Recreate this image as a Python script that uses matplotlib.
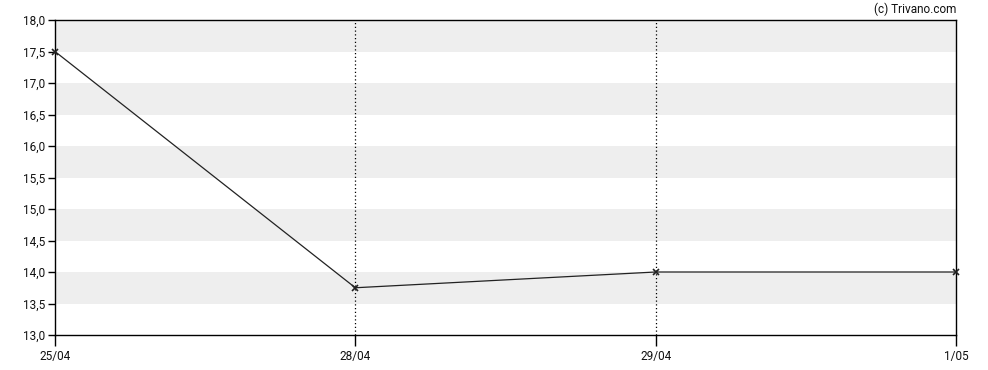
import matplotlib
matplotlib.use('Agg')
import matplotlib.pyplot as plt

plt.rcParams['font.family'] = ['Roboto', 'DejaVu Sans']

dates = ['25/04', '28/04', '29/04', '1/05']
prices = [17.5, 13.75, 14.0, 14.0]
y_ticks = [13.0, 13.5, 14.0, 14.5, 15.0, 15.5, 16.0, 16.5, 17.0, 17.5, 18.0]

fig = plt.figure(figsize=(9.88, 3.70), dpi=100)
ax = fig.add_axes([55 / 988, 1 - 335 / 370, (956 - 55) / 988, (335 - 20) / 370])

# alternating grey bands
for lo in y_ticks[1::2]:
    ax.axhspan(lo, lo + 0.5, color='#eeeeee', lw=0, zorder=0)

x = list(range(len(dates)))
for xi in x[1:-1]:
    ax.axvline(xi, color='black', lw=0.9, ls=(0, (1, 2)), zorder=1)

ax.plot(x, prices, color='#222222', lw=0.9, marker='x', ms=4, mew=1.2, zorder=3,
        clip_on=False)

ax.set_xlim(0, len(dates) - 1)
ax.set_ylim(13.0, 18.0)
ax.set_xticks(x)
ax.set_xticklabels(dates)
ax.set_yticks(y_ticks)
ax.set_yticklabels([f'{v:.1f}'.replace('.', ',') for v in y_ticks])
ax.tick_params(axis='both', labelsize=8.5, length=5, width=1, color='black',
               labelcolor='#111111', pad=2)
ax.tick_params(axis='x', length=8, pad=3)
for sp in ax.spines.values():
    sp.set_linewidth(1)
    sp.set_color('black')

fig.text(956 / 988, 1 - 9 / 370, '(c) Trivano.com', ha='right', va='center',
         fontsize=8.5, color='#111111')

fig.savefig('out.png', dpi=100)
